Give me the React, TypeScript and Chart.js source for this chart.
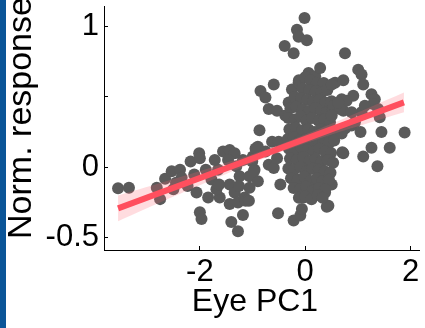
import React, { useEffect, useRef } from "react";
import { Chart, registerables } from "chart.js";

Chart.register(...registerables);

// ---- data ----
const xTicks = [-2, 0, 2];
const xTickLabels = ["-2", "0", "2"];
const yTicks = [-0.5, 0, 0.5, 1];
const yTickLabels = ["-0.5", "0", "", "1"];
const xLabel = "Eye PC1";
const yLabel = "Norm. response";
const xRange = [-3.82, 2.16];
const yRange = [-0.592, 1.149];

// scatter points [Eye PC1, Norm. response]
const leftPoints: [number, number][] = [
  [-3.553, -0.152], [-3.346, -0.147], [-2.818, -0.147], [-2.755, -0.229], [-2.66, -0.084],
  [-2.535, -0.03], [-2.377, -0.019], [-2.503, -0.159], [-2.346, -0.077], [-2.233, -0.136],
  [-2.176, 0.04], [-2.013, 0.098], [-2.0, 0.063], [-2.107, -0.054], [-2.063, -0.182],
  [-2.0, -0.323], [-1.969, -0.37], [-1.843, -0.218], [-1.78, -0.089], [-1.717, 0.051],
  [-1.654, -0.019], [-1.623, -0.218], [-1.686, -0.159], [-1.56, 0.11], [-1.434, 0.122],
  [-1.34, 0.098], [-1.465, 0.051], [-1.308, 0.005], [-1.245, -0.065], [-1.434, -0.124],
  [-1.34, -0.182], [-1.434, -0.264], [-1.277, -0.253], [-1.403, -0.393], [-1.277, -0.458],
  [-1.182, -0.342], [-1.151, -0.218], [-1.057, -0.147], [-1.057, -0.065], [-0.962, -0.019],
  [-0.899, -0.101], [-0.899, 0.145], [-0.868, 0.262], [-0.994, 0.075], [-1.182, 0.051],
  [-1.635, -0.124], [-1.887, -0.019], [-2.453, -0.112], [-1.258, -0.136], [-1.132, -0.241],
];

const midPoints: [number, number][] = [
  [-0.755, 0.11], [-0.692, 0.016], [-0.629, 0.18], [-0.503, 0.18], [-0.597, -0.007],
  [-0.535, 0.063], [-0.472, -0.124], [-0.516, -0.33], [-0.943, 0.133], [-1.006, 0.04],
  [-0.975, -0.03], [-1.069, -0.241], [-0.849, 0.543], [-0.755, 0.496], [-0.692, 0.414],
  [-0.535, 0.402], [-0.597, 0.589], [-0.39, 0.863], [-0.22, 0.812], [-0.157, 0.98],
  [-0.126, 0.929], [0.031, 0.905], [-0.013, 1.064], [-0.377, 0.367], [-0.314, 0.461],
  [-0.252, 0.554], [-0.126, 0.601], [0.063, 0.671], [0.189, 0.648], [0.283, 0.706],
  [-0.22, -0.381], [-0.094, -0.346], [-0.063, -0.299], [0.409, -0.283], [0.503, -0.124],
  [0.377, -0.182], [-0.031, -0.218], [0.44, -0.276],
];

const blobPoints: [number, number][] = [
  [-0.12, 0.62], [0.0, 0.64], [0.1, 0.62], [0.22, 0.6], [0.35, 0.6], [-0.05, 0.56],
  [0.08, 0.55], [0.2, 0.54], [0.31, 0.53], [0.42, 0.55], [-0.2, 0.5], [-0.08, 0.49],
  [0.04, 0.48], [0.15, 0.47], [0.27, 0.48], [0.38, 0.46], [0.5, 0.47],
  [-0.28, 0.42], [-0.17, 0.43], [-0.05, 0.41], [0.07, 0.4], [0.19, 0.42], [0.3, 0.4],
  [0.41, 0.39], [0.52, 0.41], [-0.32, 0.35], [-0.2, 0.34], [-0.09, 0.36], [0.02, 0.33],
  [0.13, 0.35], [0.25, 0.33], [0.36, 0.34], [0.47, 0.32], [-0.3, 0.27], [-0.18, 0.28],
  [-0.06, 0.26], [0.06, 0.27], [0.17, 0.25], [0.29, 0.27], [0.4, 0.26], [0.51, 0.24],
  [-0.33, 0.2], [-0.22, 0.21], [-0.1, 0.19], [0.01, 0.2], [0.12, 0.18], [0.23, 0.2],
  [0.34, 0.19], [0.45, 0.17], [0.55, 0.19], [-0.31, 0.13], [-0.19, 0.12], [-0.07, 0.14],
  [0.04, 0.12], [0.16, 0.11], [0.27, 0.13], [0.38, 0.11], [0.49, 0.1], [-0.29, 0.06],
  [-0.16, 0.05], [-0.04, 0.07], [0.08, 0.04], [0.2, 0.06], [0.31, 0.04], [0.43, 0.05],
  [0.53, 0.03], [-0.32, -0.01], [-0.21, -0.02], [-0.09, 0.0], [0.03, -0.03], [0.14, -0.01],
  [0.26, -0.02], [0.37, -0.03], [0.48, -0.04], [-0.27, -0.08], [-0.14, -0.09], [-0.02, -0.07],
  [0.1, -0.1], [0.22, -0.08], [0.33, -0.1], [0.45, -0.09], [-0.22, -0.15], [-0.1, -0.16],
  [0.02, -0.14], [0.14, -0.17], [0.26, -0.15], [0.38, -0.16], [-0.12, -0.22], [0.0, -0.21],
  [0.12, -0.23], [0.24, -0.2], [0.33, -0.22],
];

const rightPoints: [number, number][] = [
  [0.755, 0.812], [0.566, 0.601], [0.723, 0.62], [0.692, 0.484], [0.535, 0.437],
  [0.723, 0.402], [0.881, 0.297], [0.723, 0.098], [1.006, 0.695], [1.069, 0.66],
  [1.101, 0.589], [0.912, 0.508], [1.258, 0.519], [1.321, 0.484], [1.289, 0.449],
  [1.384, 0.414], [1.415, 0.356], [1.447, 0.25], [1.258, 0.138], [1.101, 0.075],
  [1.371, 0.005], [1.604, 0.138], [1.887, 0.246], [1.05, 0.25], [0.943, 0.32],
  [1.069, 0.391], [1.132, 0.437], [0.704, 0.105], [0.755, 0.274], [0.692, 0.239],
  [0.786, 0.473], [0.881, 0.391], [0.66, 0.414], [0.503, 0.589], [0.629, 0.461],
  [0.503, 0.367],
];

// regression fit and confidence band
const fitX = [-3.553, 1.874];
const fitY = [-0.295, 0.461];
const bandX = [-3.553, -2.5, -1.5, -0.5, 0.5, 1.874];
const bandUpper = [-0.204, -0.086, 0.031, 0.158, 0.308, 0.531];
const bandLower = [-0.386, -0.21, -0.049, 0.102, 0.232, 0.391];

const FONT = "'Liberation Sans', Arial, Helvetica, sans-serif";

// axis titles drawn with exact placement
const axisTitles = {
  id: "axisTitles",
  afterDraw(chart: any) {
    const ctx = chart.ctx as CanvasRenderingContext2D;
    ctx.save();
    ctx.fillStyle = "#000";
    ctx.textAlign = "center";
    ctx.textBaseline = "middle";
    ctx.font = `32px ${FONT}`;
    ctx.fillText(xLabel, 255, 302);
    ctx.font = `34px ${FONT}`;
    ctx.translate(22, 118);
    ctx.rotate(-Math.PI / 2);
    ctx.fillText(yLabel, 0, 0);
    ctx.restore();
  },
};

export default function App() {
  const ref = useRef<HTMLCanvasElement | null>(null);

  useEffect(() => {
    if (!ref.current) return;
    const allPoints = [...leftPoints, ...midPoints, ...blobPoints, ...rightPoints].map(
      ([x, y]) => ({ x, y })
    );
    const chart = new Chart(ref.current, {
      type: "scatter",
      data: {
        datasets: [
          {
            type: "line",
            data: fitX.map((x, i) => ({ x, y: fitY[i] })),
            borderColor: "#ff4f5e",
            borderWidth: 6,
            pointRadius: 0,
            fill: false,
            order: 0,
          } as any,
          {
            type: "line",
            data: bandX.map((x, i) => ({ x, y: bandUpper[i] })),
            borderWidth: 0,
            borderColor: "rgba(0,0,0,0)",
            backgroundColor: "rgba(255, 95, 110, 0.22)",
            pointRadius: 0,
            fill: "+1",
            tension: 0.3,
            order: 1,
          } as any,
          {
            type: "line",
            data: bandX.map((x, i) => ({ x, y: bandLower[i] })),
            borderWidth: 0,
            borderColor: "rgba(0,0,0,0)",
            pointRadius: 0,
            fill: false,
            tension: 0.3,
            order: 2,
          } as any,
          {
            data: allPoints,
            pointRadius: 6,
            pointBackgroundColor: "#5a5a5a",
            pointBorderWidth: 0,
            borderWidth: 0,
            order: 3,
          } as any,
        ],
      },
      options: {
        animation: false,
        responsive: false,
        devicePixelRatio: 1,
        layout: { padding: { left: 0, top: 2, right: 4, bottom: 0 } },
        plugins: { legend: { display: false }, tooltip: { enabled: false } },
        scales: {
          x: {
            type: "linear",
            min: xRange[0],
            max: xRange[1],
            afterFit: (s: any) => {
              s.height = 78;
              s.paddingLeft = 0;
              s.paddingRight = 0;
            },
            afterBuildTicks: (s: any) => {
              s.ticks = xTicks.map((v) => ({ value: v }));
            },
            ticks: {
              autoSkip: false,
              maxRotation: 0,
              color: "#000",
              padding: 11,
              font: { family: FONT, size: 31, lineHeight: 1 },
              callback: (_v: any, i: number) => xTickLabels[i],
            },
            grid: { drawOnChartArea: false, tickLength: -4, color: "#000", lineWidth: 1 },
            border: { color: "#000", width: 1 },
            title: { display: false },
          },
          y: {
            type: "linear",
            min: yRange[0],
            max: yRange[1],
            afterFit: (s: any) => {
              s.width = 104;
              s.paddingTop = 0;
              s.paddingBottom = 0;
            },
            afterBuildTicks: (s: any) => {
              s.ticks = yTicks.map((v) => ({ value: v }));
            },
            ticks: {
              autoSkip: false,
              color: "#000",
              padding: 9,
              font: { family: FONT, size: 31, lineHeight: 1 },
              callback: (_v: any, i: number) => yTickLabels[i],
            },
            grid: { drawOnChartArea: false, tickLength: -4, color: "#000", lineWidth: 1 },
            border: { color: "#000", width: 1 },
            title: { display: false },
          },
        },
      },
      plugins: [axisTitles],
    });
    return () => chart.destroy();
  }, []);

  return (
    <div
      style={{
        position: "fixed",
        left: 0,
        top: 0,
        width: 425,
        height: 328,
        background: "#fff",
        overflow: "hidden",
      }}
    >
      <canvas ref={ref} width={425} height={328} style={{ display: "block" }} />
      <div
        style={{
          position: "absolute",
          left: 0,
          top: 0,
          width: 6,
          height: 328,
          background: "#0b5598",
        }}
      />
    </div>
  );
}
